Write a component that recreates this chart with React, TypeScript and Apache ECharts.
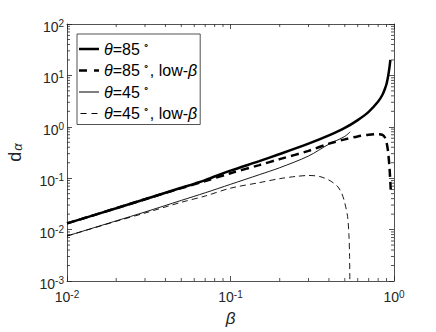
import React, { useEffect, useRef } from 'react';
import * as echarts from 'echarts';

// beta values and d_alpha values
const BETA_85 = [0.01, 0.02, 0.03, 0.05, 0.07, 0.1, 0.15, 0.2, 0.3, 0.4, 0.5, 0.6, 0.7, 0.8, 0.85, 0.88, 0.9, 0.92, 0.94, 0.95];
const D_85 = [0.0132, 0.026, 0.039, 0.065, 0.092, 0.14, 0.215, 0.295, 0.47, 0.68, 0.95, 1.35, 1.95, 3.1, 4.2, 5.5, 6.8, 9.5, 15, 20];

const BETA_85_LOW = [0.01, 0.02, 0.03, 0.05, 0.07, 0.1, 0.15, 0.2, 0.3, 0.4, 0.5, 0.6, 0.7, 0.8, 0.85, 0.88, 0.9, 0.92, 0.94, 0.955];
const D_85_LOW = [0.0132, 0.026, 0.039, 0.064, 0.088, 0.125, 0.18, 0.235, 0.34, 0.47, 0.57, 0.65, 0.7, 0.72, 0.7, 0.62, 0.5, 0.33, 0.15, 0.06];

const BETA_45 = [0.01, 0.02, 0.03, 0.05, 0.07, 0.1, 0.15, 0.2, 0.3, 0.4, 0.5, 0.54];
const D_45 = [0.0075, 0.0148, 0.022, 0.037, 0.052, 0.076, 0.117, 0.16, 0.27, 0.46, 0.65, 0.8];

const BETA_45_LOW = [0.01, 0.02, 0.03, 0.05, 0.07, 0.1, 0.15, 0.2, 0.25, 0.3, 0.35, 0.4, 0.45, 0.48, 0.5, 0.52, 0.53, 0.535, 0.537];
const D_45_LOW = [0.0075, 0.0145, 0.021, 0.034, 0.045, 0.064, 0.082, 0.098, 0.108, 0.113, 0.108, 0.092, 0.07, 0.05, 0.033, 0.018, 0.008, 0.003, 0.001];

const SERIES_NAMES = ['θ=85°', 'θ=85°, low-β', 'θ=45°', 'θ=45°, low-β'];
const LEGEND_RICH = [
  '{i|θ}{n|=85}{s|∘}',
  '{i|θ}{n|=85}{s|∘}{n|, low-}{i|β}',
  '{i|θ}{n|=45}{s|∘}',
  '{i|θ}{n|=45}{s|∘}{n|, low-}{i|β}',
];
// legend line samples (20 x 10 box), drawn as filled shapes
const LEGEND_ICONS = [
  'path://M0,0V10ZM0,3.8H20V6.2H0Z',
  'path://M0,0V10ZM0,3.8H8V6.2H0ZM15,3.8H20V6.2H15Z',
  'path://M0,0V10ZM0,4.55H20V5.45H0Z',
  'path://M0,0V10ZM0,4.55H6V5.45H0ZM11,4.55H17V5.45H11Z',
];

const X_MIN = 0.01;
const X_MAX = 1;
const Y_MIN = 0.001;
const Y_MAX = 100;
const MINOR_MULT = [2, 3, 4, 5, 6, 7, 8, 9];
const X_DECADES = [0.01, 0.1];
const Y_DECADES = [0.001, 0.01, 0.1, 1, 10];

const FONT = 'Liberation Sans, Arial, Helvetica, sans-serif';
const AXIS_COLOR = '#262626';

function zip(xs: number[], ys: number[]) {
  return xs.map((x, i) => [x, ys[i]]);
}

function supLabel(v: number) {
  const e = Math.round(Math.log10(v));
  return '{b|10}{sup|' + (e < 0 ? '-' + Math.abs(e) : String(e)) + '}';
}

const yLabelRich = {
  b: { fontSize: 14, lineHeight: 11, fontFamily: FONT, color: AXIS_COLOR, padding: [6, 0, 0, 0] },
  sup: { fontSize: 10, lineHeight: 8, fontFamily: FONT, color: AXIS_COLOR, verticalAlign: 'top' },
};
const xLabelRich = {
  b: { fontSize: 14, lineHeight: 11, fontFamily: FONT, color: AXIS_COLOR, padding: [5, 0, 0, 0] },
  sup: { fontSize: 10, lineHeight: 8, fontFamily: FONT, color: AXIS_COLOR, verticalAlign: 'top' },
};

export default function App() {
  const ref = useRef<HTMLDivElement>(null);
  useEffect(() => {
    document.body.style.margin = '0';
    if (!ref.current) return;
    const chart = echarts.init(ref.current, undefined, { renderer: 'svg' });

    const xMinor = X_DECADES.flatMap((d) => MINOR_MULT.map((m) => [d * m, 1]));
    const yMinor = Y_DECADES.flatMap((d) => MINOR_MULT.map((m) => [0.1, d * m]));

    const lineBase = { type: 'line', showSymbol: false, symbol: 'none', smooth: 0.3, xAxisIndex: 0, yAxisIndex: 0, z: 3 };

    chart.setOption({
      animation: false,
      backgroundColor: '#ffffff',
      grid: { left: 67, right: 42, top: 24, bottom: 51, containLabel: false, outerBoundsMode: 'none' },
      legend: {
        orient: 'vertical',
        left: 77,
        top: 34,
        padding: [5, 3, 3, 2],
        itemGap: 3.5,
        itemWidth: 20,
        itemHeight: 10,
        backgroundColor: '#ffffff',
        borderColor: '#262626',
        borderWidth: 0.8,
        borderRadius: 0,
        itemStyle: { borderWidth: 0 },
        data: SERIES_NAMES.map((name, i) => ({ name, icon: LEGEND_ICONS[i] })),
        formatter: (name: string) => LEGEND_RICH[SERIES_NAMES.indexOf(name)],
        textStyle: {
          fontFamily: FONT,
          fontSize: 16,
          color: '#000',
          rich: {
            n: { fontFamily: FONT, fontSize: 16, lineHeight: 20, color: '#000' },
            i: { fontFamily: FONT, fontSize: 16, lineHeight: 20, fontStyle: 'italic', color: '#000' },
            s: { fontFamily: FONT, fontSize: 10, lineHeight: 2, color: '#000', verticalAlign: 'top', padding: [0, 1, 0, 3] },
          },
        },
      },
      xAxis: [
        {
          type: 'log', logBase: 10, min: X_MIN, max: X_MAX, position: 'bottom',
          name: 'β', nameLocation: 'middle', nameGap: 29,
          nameTextStyle: { fontFamily: FONT, fontSize: 17, fontStyle: 'italic', color: AXIS_COLOR },
          axisLine: { show: true, lineStyle: { color: AXIS_COLOR, width: 0.8 } },
          axisTick: { show: true, inside: true, length: 5, lineStyle: { color: AXIS_COLOR, width: 0.8 } },
          axisLabel: { formatter: supLabel, rich: xLabelRich, margin: 8, fontFamily: FONT, fontSize: 14, color: AXIS_COLOR },
          splitLine: { show: false },
        },
        {
          type: 'log', logBase: 10, min: X_MIN, max: X_MAX, position: 'top',
          axisLine: { show: true, lineStyle: { color: AXIS_COLOR, width: 0.8 } },
          axisTick: { show: true, inside: true, length: 5, lineStyle: { color: AXIS_COLOR, width: 0.8 } },
          axisLabel: { show: false },
          splitLine: { show: false },
        },
      ],
      yAxis: [
        {
          type: 'log', logBase: 10, min: Y_MIN, max: Y_MAX, position: 'left',
          name: '{d|d}{a|α}', nameLocation: 'middle', nameGap: 43, nameRotate: 90,
          nameTextStyle: {
            rich: {
              d: { fontFamily: FONT, fontSize: 18, lineHeight: 18, color: AXIS_COLOR },
              a: { fontFamily: FONT, fontSize: 13, lineHeight: 13, fontStyle: 'italic', color: AXIS_COLOR, verticalAlign: 'bottom', padding: [28, 0, 0, 1] },
            },
          },
          axisLine: { show: true, lineStyle: { color: AXIS_COLOR, width: 0.8 } },
          axisTick: { show: true, inside: true, length: 5, lineStyle: { color: AXIS_COLOR, width: 0.8 } },
          axisLabel: { formatter: supLabel, rich: yLabelRich, margin: 3, fontFamily: FONT, fontSize: 14, color: AXIS_COLOR },
          splitLine: { show: false },
        },
        {
          type: 'log', logBase: 10, min: Y_MIN, max: Y_MAX, position: 'right',
          axisLine: { show: true, lineStyle: { color: AXIS_COLOR, width: 0.8 } },
          axisTick: { show: true, inside: true, length: 5, lineStyle: { color: AXIS_COLOR, width: 0.8 } },
          axisLabel: { show: false },
          splitLine: { show: false },
        },
      ],
      series: [
        { ...lineBase, name: SERIES_NAMES[0], data: zip(BETA_85, D_85), lineStyle: { color: '#000', width: 2.5, type: 'solid' }, itemStyle: { color: '#000' } },
        { ...lineBase, name: SERIES_NAMES[1], data: zip(BETA_85_LOW, D_85_LOW), lineStyle: { color: '#000', width: 2.5, type: [8, 5] }, itemStyle: { color: '#000' } },
        { ...lineBase, name: SERIES_NAMES[2], data: zip(BETA_45, D_45), lineStyle: { color: '#000', width: 0.9, type: 'solid' }, itemStyle: { color: '#000' } },
        { ...lineBase, name: SERIES_NAMES[3], data: zip(BETA_45_LOW, D_45_LOW), lineStyle: { color: '#000', width: 0.9, type: [6, 4] }, itemStyle: { color: '#000' } },
        {
          type: 'custom', name: 'xminor', silent: true, clip: false, xAxisIndex: 0, yAxisIndex: 0, z: 4,
          data: xMinor,
          renderItem: (params: any, api: any) => {
            const p = api.coord([api.value(0), api.value(1)]);
            const cs = params.coordSys;
            const st = { stroke: AXIS_COLOR, lineWidth: 0.8 };
            return {
              type: 'group',
              children: [
                { type: 'line', shape: { x1: p[0], y1: cs.y + cs.height, x2: p[0], y2: cs.y + cs.height - 3 }, style: st },
                { type: 'line', shape: { x1: p[0], y1: cs.y, x2: p[0], y2: cs.y + 3 }, style: st },
              ],
            };
          },
        },
        {
          type: 'custom', name: 'yminor', silent: true, clip: false, xAxisIndex: 0, yAxisIndex: 0, z: 4,
          data: yMinor,
          renderItem: (params: any, api: any) => {
            const p = api.coord([api.value(0), api.value(1)]);
            const cs = params.coordSys;
            const st = { stroke: AXIS_COLOR, lineWidth: 0.8 };
            return {
              type: 'group',
              children: [
                { type: 'line', shape: { x1: cs.x, y1: p[1], x2: cs.x + 3, y2: p[1] }, style: st },
                { type: 'line', shape: { x1: cs.x + cs.width, y1: p[1], x2: cs.x + cs.width - 3, y2: p[1] }, style: st },
              ],
            };
          },
        },
      ],
    });
    return () => chart.dispose();
  }, []);
  return <div ref={ref} style={{ width: 436, height: 332 }} />;
}
